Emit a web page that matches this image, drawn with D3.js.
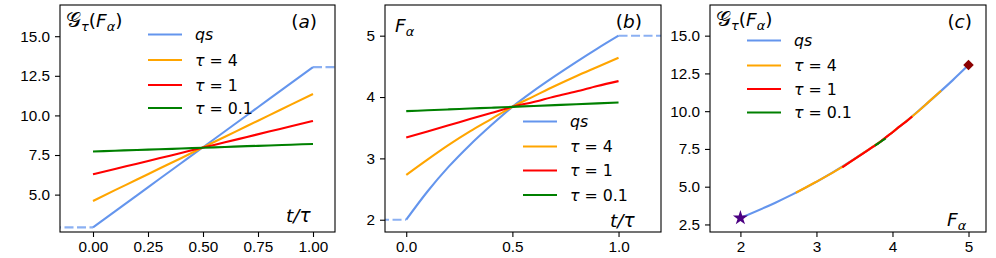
<!DOCTYPE html>
<html>
<head>
<meta charset="utf-8">
<title>G and F vs t</title>
<style>
  body { margin: 0; background: #fff; }
  svg { display: block; font-family: "DejaVu Sans", sans-serif; }
  .frame { fill: none; stroke: #000; stroke-width: 1.1px; }
  .tick line { stroke: #000; stroke-width: 1.1px; }
  .tick text { fill: #000; font-size: 15.3px; }
  .line { fill: none; stroke-width: 2.1px; }
</style>
</head>
<body>
<script src="https://cdn.jsdelivr.net/npm/d3@7"></script>
<script>

// sampled time t/tau
var tVals = [0, 0.1, 0.2, 0.3, 0.4, 0.5, 0.6, 0.7, 0.8, 0.9, 1.0];

// F_alpha(t) for each protocol (panel b)
var qsF    = [2.00, 2.46, 2.865, 3.22, 3.54, 3.84, 4.10, 4.34, 4.57, 4.79, 5.00];
var tau4F  = [2.73, 2.98, 3.22, 3.44, 3.64, 3.84, 4.01, 4.18, 4.34, 4.49, 4.64];
var tau1F  = [3.34, 3.44, 3.54, 3.64, 3.74, 3.84, 3.92, 4.01, 4.09, 4.18, 4.26];
var tau01F = [3.77, 3.784, 3.798, 3.812, 3.826, 3.84, 3.854, 3.868, 3.882, 3.896, 3.91];

// G_tau(F_alpha(t)) for each protocol (panel a)
var qsG    = [2.93, 3.94, 4.95, 5.97, 6.98, 7.99, 9.00, 10.01, 11.03, 12.04, 13.05];
var tau4G  = [4.60, 5.28, 5.95, 6.63, 7.30, 7.98, 8.65, 9.33, 10.00, 10.68, 11.35];
var tau1G  = [6.28, 6.62, 6.95, 7.29, 7.63, 7.97, 8.30, 8.64, 8.98, 9.31, 9.65];
var tau01G = [7.72, 7.77, 7.82, 7.86, 7.91, 7.96, 8.01, 8.06, 8.10, 8.15, 8.20];

// quasi-static hold before/after the protocol (dashed)
var holdBeforeT = [-0.3, 0];
var holdAfterT  = [1, 1.4];

var names  = ["qs", "τ = 4", "τ = 1", "τ = 0.1"];
var colors = ["#6495ED", "#FFA500", "#FF0000", "#008000"];

var xTicksA = [0, 0.25, 0.5, 0.75, 1.0];
var yTicksA = [5.0, 7.5, 10.0, 12.5, 15.0];
var xTicksB = [0, 0.5, 1.0];
var yTicksB = [2, 3, 4, 5];
var xTicksC = [2, 3, 4, 5];
var yTicksC = [2.5, 5.0, 7.5, 10.0, 12.5, 15.0];

var allF = [qsF, tau4F, tau1F, tau01F];
var allG = [qsG, tau4G, tau1G, tau01G];

var W = 996, H = 258;
var svg = d3.select("body").append("svg").attr("width", W).attr("height", H);

function series(xs, ys) {
  return xs.map(function (d, i) { return [d, ys[i]]; });
}

// write math-ish text from parts: {t, it, sub}
function mathText(sel, parts, size) {
  var txt = sel.append("text").style("font-size", size + "px");
  var inSub = false;
  parts.forEach(function (p) {
    var ts = txt.append("tspan").text(p.t);
    if (p.it) ts.style("font-style", "italic");
    if (p.sub && !inSub) { ts.attr("dy", size * 0.22); inSub = true; }
    else if (!p.sub && inSub) { ts.attr("dy", -size * 0.22); inSub = false; }
    if (p.sub) ts.style("font-size", (size * 0.7) + "px");
    if (p.big) ts.style("font-size", (size * p.big) + "px");
  });
  return txt;
}

function legendLabel(sel, name, size) {
  var txt = sel.append("text").style("font-size", size + "px");
  if (name == "qs") {
    txt.append("tspan").style("font-style", "italic").text("qs");
  } else {
    txt.append("tspan").style("font-style", "italic").text("τ");
    txt.append("tspan").text(name.slice(1));
  }
  return txt;
}

var gLabel = [{t: "𝒢", big: 1.12}, {t: "τ", it: true, sub: true}, {t: "("}, {t: "F", it: true},
              {t: "α", it: true, sub: true}, {t: ")"}];
var fLabel = [{t: "F", it: true}, {t: "α", it: true, sub: true}];
var tLabel = [{t: "t/τ", it: true}];

function panel(o) {
  var g = svg.append("g").attr("transform", "translate(" + o.left + "," + o.top + ")");
  var w = o.width, h = o.height;
  var x = d3.scaleLinear().domain(o.xd).range([0, w]);
  var y = d3.scaleLinear().domain(o.yd).range([h, 0]);

  g.append("g").attr("transform", "translate(0," + h + ")")
    .call(d3.axisBottom(x).tickValues(o.xt).tickFormat(d3.format(o.xf)).tickSize(5).tickPadding(4))
    .call(function (a) { a.select(".domain").remove(); a.selectAll("text").attr("font-family", null).attr("font-size", null); });
  g.append("g")
    .call(d3.axisLeft(y).tickValues(o.yt).tickFormat(d3.format(o.yf)).tickSize(5).tickPadding(5))
    .call(function (a) { a.select(".domain").remove(); a.selectAll("text").attr("font-family", null).attr("font-size", null); });

  var cid = "clip" + o.id;
  g.append("clipPath").attr("id", cid).append("rect").attr("width", w).attr("height", h);
  var plot = g.append("g").attr("clip-path", "url(#" + cid + ")");

  var line = d3.line()
    .x(function (d) { return x(d[0]); })
    .y(function (d) { return y(d[1]); })
    .curve(d3.curveMonotoneX);

  o.draw(plot, line, x, y);

  g.append("rect").attr("class", "frame").attr("width", w).attr("height", h);

  // legend
  names.forEach(function (n, i) {
    var ly = o.legY[i];
    g.append("line")
      .attr("x1", o.legX).attr("x2", o.legX + 34)
      .attr("y1", ly).attr("y2", ly)
      .attr("stroke", colors[i]).attr("stroke-width", 2.1);
    legendLabel(g, n, 15.8).attr("x", o.legX + 47).attr("y", ly + 5.5);
  });

  mathText(g, o.ylab, 18.5).attr("x", o.ylabX).attr("y", o.ylabY);
  mathText(g, o.xlab, 18.5).attr("x", o.xlabX).attr("y", o.xlabY);
  var tag = g.append("text").style("font-size", "18.5px").attr("x", o.tagX).attr("y", 23)
    .attr("text-anchor", "end");
  tag.append("tspan").text("(");
  tag.append("tspan").style("font-style", "italic").text(o.tag);
  tag.append("tspan").text(")");
}

function drawHold(plot, line, xs, ys) {
  var before = holdBeforeT.map(function (t) { return [t, ys[0]]; });
  var after = holdAfterT.map(function (t) { return [t, ys[ys.length - 1]]; });
  [before, after].forEach(function (d) {
    plot.append("path").datum(d).attr("class", "line").attr("d", line)
      .attr("stroke", colors[0]).attr("stroke-opacity", 0.75)
      .attr("stroke-dasharray", "9,3.5");
  });
}

// (a) G vs t
panel({
  id: "a", left: 60, top: 5, width: 275, height: 227,
  xd: [-0.15, 1.1], yd: [2.64, 16.97], xt: xTicksA, yt: yTicksA, xf: ".2f", yf: ".1f",
  legX: 88, legY: [29.5, 55, 80, 103],
  ylab: gLabel, ylabX: 6, ylabY: 22, xlab: tLabel, xlabX: 226, xlabY: 217,
  tag: "a", tagX: 257,
  draw: function (plot, line) {
    drawHold(plot, line, tVals, qsG);
    allG.forEach(function (G, i) {
      plot.append("path").datum(series(tVals, G)).attr("class", "line")
        .attr("d", line).attr("stroke", colors[i]);
    });
  }
});

// (b) F vs t
panel({
  id: "b", left: 385, top: 5, width: 276, height: 227,
  xd: [-0.1, 1.2], yd: [1.8, 5.5], xt: xTicksB, yt: yTicksB, xf: ".1f", yf: "d",
  legX: 138, legY: [116.5, 141.5, 165.5, 190],
  ylab: fLabel, ylabX: 10, ylabY: 27, xlab: tLabel, xlabX: 225, xlabY: 222,
  tag: "b", tagX: 257,
  draw: function (plot, line) {
    drawHold(plot, line, tVals, qsF);
    allF.forEach(function (F, i) {
      plot.append("path").datum(series(tVals, F)).attr("class", "line")
        .attr("d", line).attr("stroke", colors[i]);
    });
  }
});

// (c) G vs F
panel({
  id: "c", left: 710, top: 5, width: 276, height: 227,
  xd: [1.6, 5.23], yd: [2.0, 17.03], xt: xTicksC, yt: yTicksC, xf: "d", yf: ".1f",
  legX: 37, legY: [35.5, 60.5, 84, 107.5],
  ylab: gLabel, ylabX: 6, ylabY: 21, xlab: fLabel, xlabX: 237, xlabY: 221,
  tag: "c", tagX: 262,
  draw: function (plot, line, x, y) {
    allF.forEach(function (F, i) {
      plot.append("path").datum(series(F, allG[i])).attr("class", "line")
        .attr("d", line).attr("stroke", colors[i]);
    });
    plot.append("path")
      .attr("d", d3.symbol().type(d3.symbolStar).size(70)())
      .attr("transform", "translate(" + x(qsF[0]) + "," + y(qsG[0]) + ")")
      .attr("fill", "#4B0082");
    plot.append("path")
      .attr("d", d3.symbol().type(d3.symbolSquare).size(55)())
      .attr("transform", "translate(" + x(qsF[qsF.length - 1]) + "," + y(qsG[qsG.length - 1]) + ") rotate(45)")
      .attr("fill", "#8B0000");
  }
});

</script>
</body>
</html>
